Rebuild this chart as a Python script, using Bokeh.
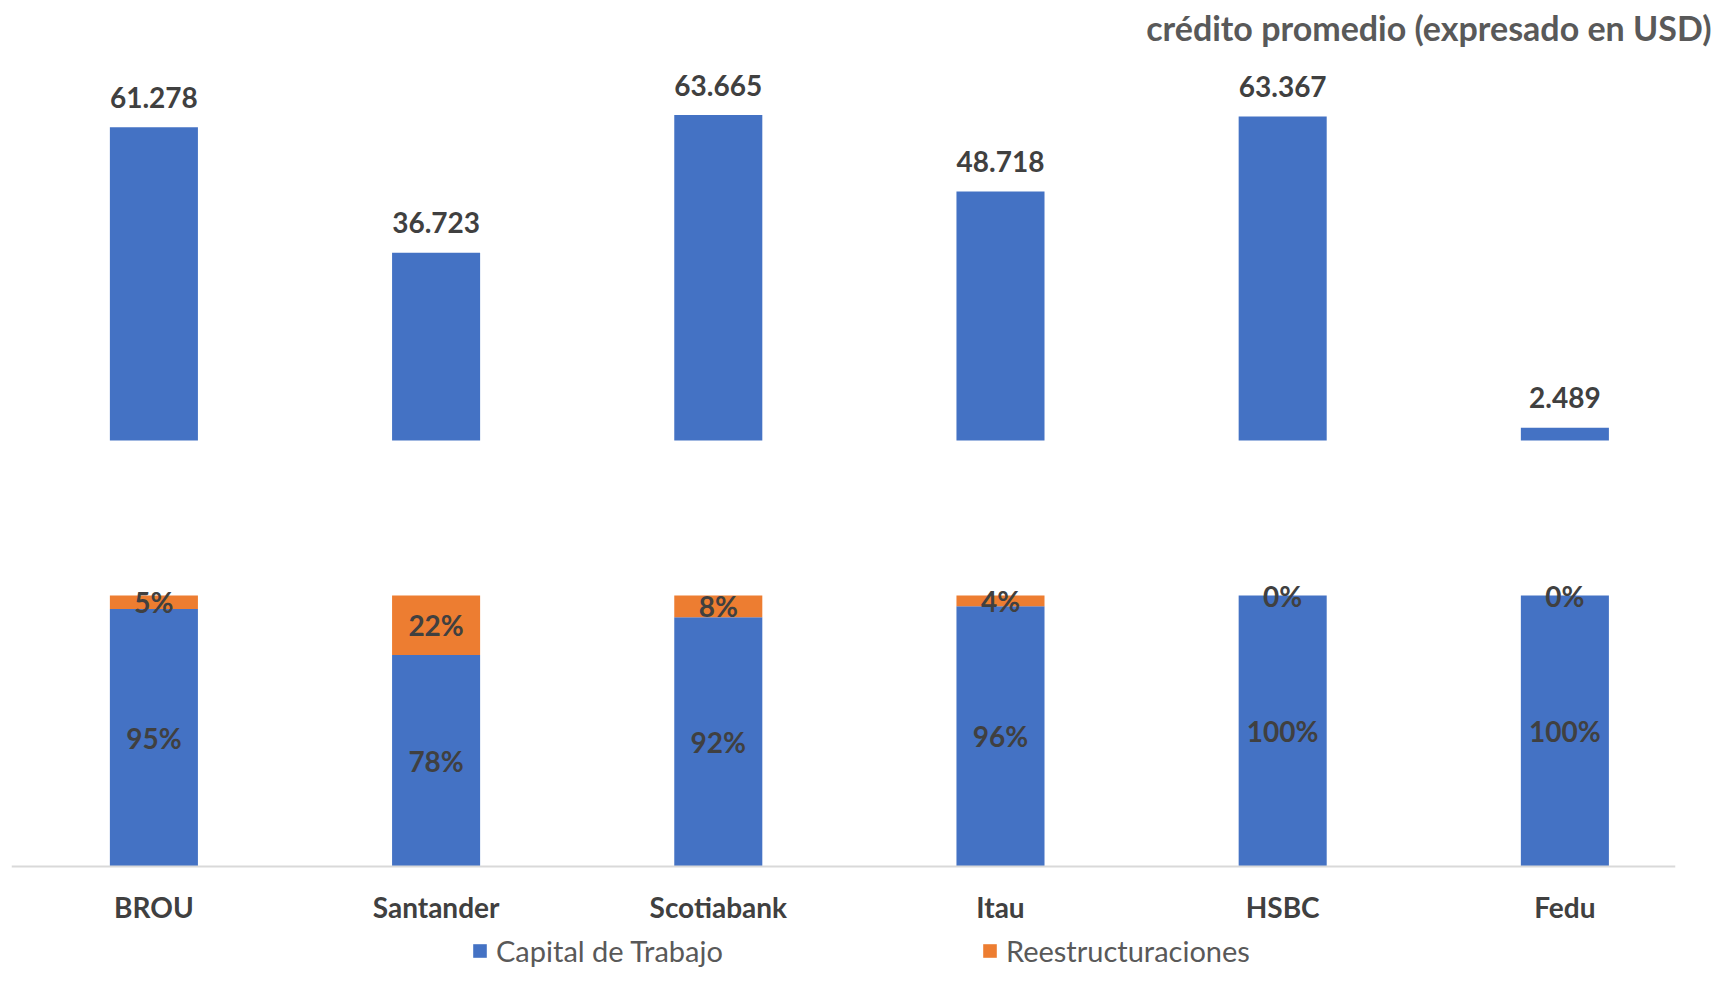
from bokeh.plotting import figure
from bokeh.models import Range1d, FixedTicker, ColumnDataSource, Legend, LegendItem
from bokeh.core.properties import value
from bokeh.embed import file_html
from bokeh.resources import INLINE

bancos = ["BROU", "Santander", "Scotiabank", "Itau", "HSBC", "Fedu"]
credito_promedio = [61278, 36723, 63665, 48718, 63367, 2489]
capital_trabajo = [95, 78, 92, 96, 100, 100]
reestructuraciones = [5, 22, 8, 4, 0, 0]

titulo = "crédito promedio (expresado en USD)"
serie_nombres = ["Capital de Trabajo", "Reestructuraciones"]

BLUE = "#4472C4"
ORANGE = "#ED7D31"
DARK = "#404040"
GRAY = "#595959"
FONT = "Lato"

xs = list(range(len(bancos)))

src = ColumnDataSource(dict(
    x=xs,
    credito=credito_promedio,
    credito_lbl=[f"{v:,}".replace(",", ".") for v in credito_promedio],
    cap=capital_trabajo,
    rees=reestructuraciones,
    cap_mid=[c / 2 for c in capital_trabajo],
    rees_mid=[c + r / 2 for c, r in zip(capital_trabajo, reestructuraciones)],
    cap_lbl=[f"{c}%" for c in capital_trabajo],
    rees_lbl=[f"{r}%" for r in reestructuraciones],
))

p = figure(width=1714, height=968,
           x_range=Range1d(-0.5046, 5.392),
           y_range=Range1d(-37.64, 301.11),
           y_axis_location=None,
           output_backend="svg", toolbar_location=None,
           min_border_left=11, min_border_right=39,
           min_border_top=50, min_border_bottom=0)
p.extra_y_ranges = {"credit": Range1d(-103290, 76290)}

p.title.text = titulo
p.title.align = "right"
p.title.text_font = FONT
p.title.text_font_size = "34px"
p.title.text_font_style = "bold"
p.title.text_color = GRAY
p.title.offset = -36
p.title.standoff = 5

BW = 0.312

# upper bars: average credit
p.vbar(x="x", top="credito", bottom=0, width=BW, source=src,
       fill_color=BLUE, line_color=None, y_range_name="credit")
p.text(x="x", y="credito", text="credito_lbl", source=src, y_range_name="credit",
       y_offset=-30, text_align="center", text_baseline="middle",
       text_font=value(FONT), text_font_size="28px", text_font_style="bold",
       text_color=DARK)

# lower stacked bars: composition
rs = p.vbar_stack(["cap", "rees"], x="x", width=BW, source=src,
                  color=[BLUE, ORANGE], line_color=None)
for col_y, col_t in (("cap_mid", "cap_lbl"), ("rees_mid", "rees_lbl")):
    p.text(x="x", y=col_y, text=col_t, source=src,
           text_align="center", text_baseline="middle",
           text_font=value(FONT), text_font_size="28px", text_font_style="bold",
           text_color=DARK)

# axes / grid
p.xgrid.visible = False
p.ygrid.visible = False
p.outline_line_color = None
ax = p.xaxis[0]
ax.fixed_location = 0
ax.ticker = FixedTicker(ticks=xs)
ax.major_label_overrides = {i: b for i, b in zip(xs, bancos)}
ax.major_tick_line_color = None
ax.minor_tick_line_color = None
ax.major_tick_out = 0
ax.major_tick_in = 0
ax.axis_line_color = "#D9D9D9"
ax.axis_line_width = 2
ax.major_label_standoff = 24
ax.major_label_text_font = FONT
ax.major_label_text_font_size = "28px"
ax.major_label_text_font_style = "bold"
ax.major_label_text_color = DARK

legend = Legend(items=[LegendItem(label=serie_nombres[0], renderers=[rs[0]]),
                       LegendItem(label=serie_nombres[1], renderers=[rs[1]])],
                orientation="horizontal", location=(460, 0),
                glyph_width=17, glyph_height=17, label_standoff=8, spacing=258,
                padding=0, margin=0, border_line_color=None,
                background_fill_alpha=0,
                label_text_font=FONT, label_text_font_size="29px",
                label_text_color=GRAY)
p.add_layout(legend)

open("out.html", "w").write(file_html(p, INLINE))
